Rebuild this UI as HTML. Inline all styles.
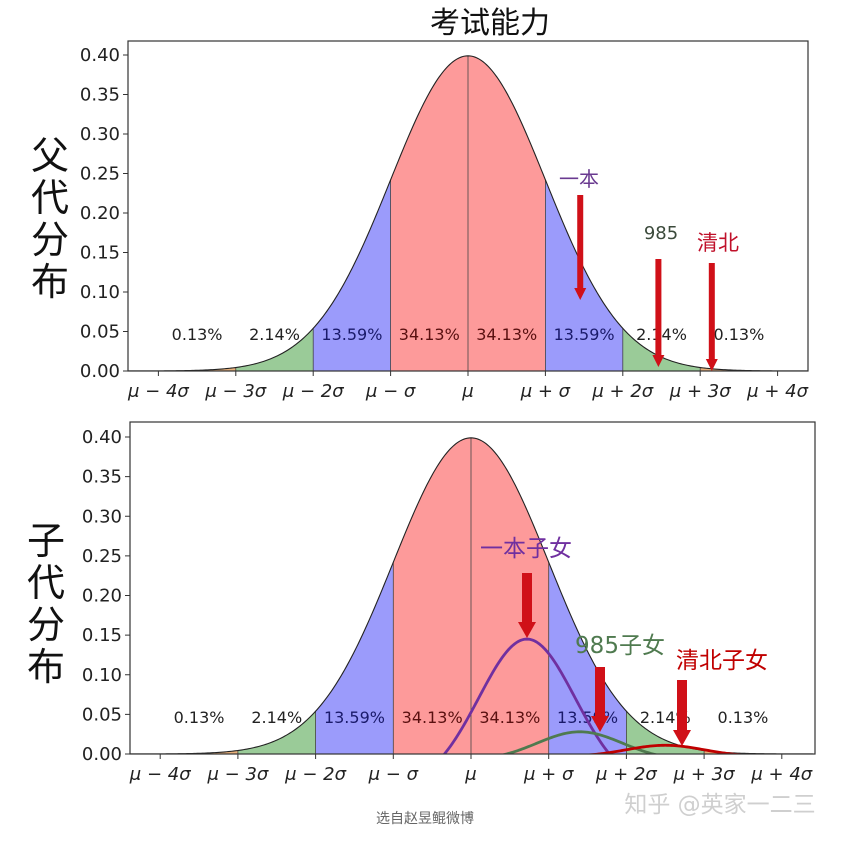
<!DOCTYPE html>
<html><head><meta charset="utf-8"><style>
body{margin:0;background:#fff;width:849px;height:841px;overflow:hidden}
svg text{font-family:"DejaVu Sans","Liberation Sans","Noto Sans CJK SC",sans-serif}
</style></head><body>
<svg id="chart" width="849" height="841" viewBox="0 0 849 841" xmlns="http://www.w3.org/2000/svg"></svg>
<script>
const regionEdges=[-4,-3,-2,-1,0,1,2,3,4];
const regionColors=["#e8b07a","#9acb98","#9b9bfb","#fd9a9a","#fd9a9a","#9b9bfb","#9acb98","#e8b07a"];
const percentLabels=["0.13%","2.14%","13.59%","34.13%","34.13%","13.59%","2.14%","0.13%"];
const labelColors=["#222","#222","#1a1a6a","#5a1010","#5a1010","#1a1a6a","#222","#222"];
const yTicks=[0,0.05,0.10,0.15,0.20,0.25,0.30,0.35,0.40];
const xTickLabels=["μ − 4σ","μ − 3σ","μ − 2σ","μ − σ","μ","μ + σ","μ + 2σ","μ + 3σ","μ + 4σ"];
const childNames=["一本子女","985子女","清北子女"];
const childMeans=[0.72,1.4,2.5];
const childPeaks=[0.145,0.028,0.011];
const childSpread=[0.62,0.55,0.5];
const childColors=["#7030a0","#4f7a4f","#c00000"];
const parentNames=["一本","985","清北"];
const parentArrowX=[1.45,2.46,3.15];
const parentColors=["#6a3a90","#3b4a3b","#c0102a"];

const svgRoot=document.getElementById('chart');
const NS="http://www.w3.org/2000/svg";
function el(t,a,p){const e=document.createElementNS(NS,t);for(const k in a)e.setAttribute(k,a[k]);(p||svgRoot).appendChild(e);return e;}
const pdf=x=>Math.exp(-x*x/2)/Math.sqrt(2*Math.PI);

function panel(cfg,name){
  const g=el('g',{});
  
  
  const X=v=>cfg.mu+v*cfg.sig, Y=v=>cfg.y0-v/0.4*(cfg.y0-cfg.y40);
  const clipId=name+'-clip';
  const cp=el('clipPath',{id:clipId},g);el('rect',{x:cfg.left,y:cfg.top,width:cfg.right-cfg.left,height:cfg.y0-cfg.top},cp);
  for(let i=0;i<regionEdges.length-1;i++){
    const a=regionEdges[i],b=regionEdges[i+1];let d=`M${X(a)},${Y(0)}`;
    for(let k=0;k<=40;k++){const x=a+(b-a)*k/40;d+=`L${X(x)},${Y(pdf(x))}`;}
    d+=`L${X(b)},${Y(0)}Z`;
    const r=el('path',{d,fill:regionColors[i],stroke:'none'},g);
    
    
    if(i>0) el('line',{x1:X(a),x2:X(a),y1:Y(0),y2:Y(pdf(a)),stroke:'#444','stroke-width':0.8},g);
  }
  let d='';for(let k=0;k<=400;k++){const x=-4.4+8.8*k/400;d+=(k?'L':'M')+X(x)+','+Y(pdf(x));}
  const c=el('path',{d,fill:'none',stroke:'#222','stroke-width':1.1,'clip-path':`url(#${clipId})`},g);
  
  
  for(let i=0;i<percentLabels.length;i++){
    const t=el('text',{x:X((regionEdges[i]+regionEdges[i+1])/2),y:cfg.pctY,'font-size':16,'text-anchor':'middle',fill:labelColors[i]},g);
    t.textContent=percentLabels[i];
    
    
  }
  if(cfg.child){
    for(let j=0;j<childMeans.length;j++){
      let dd='';for(let k=0;k<=200;k++){const x=childMeans[j]-2+4*k/200;const y=childPeaks[j]*(Math.exp(-Math.pow((x-childMeans[j])/childSpread[j],2)/2)*1.3-0.3);dd+=(k?'L':'M')+X(x)+','+Y(y);}
      const p=el('path',{d:dd,fill:'none',stroke:childColors[j],'stroke-width':2.8,'clip-path':`url(#${clipId})`},g);
      
      
    }
  }
  el('rect',{x:cfg.left,y:cfg.top,width:cfg.right-cfg.left,height:cfg.y0-cfg.top,fill:'none',stroke:'#333','stroke-width':1.2},g);
  yTicks.forEach(v=>{
    el('line',{x1:cfg.left-5,x2:cfg.left,y1:Y(v),y2:Y(v),stroke:'#333'},g);
    const t=el('text',{x:cfg.left-8,y:Y(v)+6,'font-size':18,'text-anchor':'end',fill:'#222'},g);t.textContent=v.toFixed(2);
    
    
  });
  regionEdges.forEach((v,i)=>{
    el('line',{x1:X(v),x2:X(v),y1:Y(0),y2:Y(0)+5,stroke:'#333'},g);
    const t=el('text',{x:X(v),y:Y(0)+26,'font-size':18,'font-style':'italic','text-anchor':'middle',fill:'#222'},g);t.textContent=xTickLabels[i];
    
    
  });
  return {X,Y};
}
function arrow(x,y1,y2,name,w,hw,hl){
  const a=el('path',{d:`M${x-w},${y1}L${x+w},${y1}L${x+w},${y2-hl}L${x+hw},${y2-hl}L${x},${y2}L${x-hw},${y2-hl}L${x-w},${y2-hl}Z`,fill:'#d01018'});
  
  
}
function txt(s,x,y,size,color,name,anchor){
  const t=el('text',{x,y,'font-size':size,fill:color,'text-anchor':anchor||'middle'});
  t.textContent=s;
  
  
  return t;
}
const topPanel=panel({left:128,right:808,top:41,y0:371,y40:55,mu:468,sig:77.4,pctY:340},'top-panel');
const botPanel=panel({left:130,right:815,top:422,y0:754,y40:437,mu:471,sig:77.7,pctY:723,child:true},'bottom-panel');

txt('考试能力',490,33,30,'#111','chart-title');
['父','代','分','布'].forEach((c,i)=>txt(c,50,169+i*42,38,'#111','parent-axis-label'));
['子','代','分','布'].forEach((c,i)=>txt(c,46,554+i*42,38,'#111','child-axis-label'));

const pLab=[[579,186],[661,239],[718,250]];
const pSize=[20,18,21];
parentNames.forEach((n,i)=>{
  const x=topPanel.X(parentArrowX[i]);
  txt(n,pLab[i][0],pLab[i][1],pSize[i],parentColors[i],'parent-label-'+i);
  arrow(x,[195,259,263][i],[300,367,371][i],'parent-arrow-'+i,3,6,12);
});
const cLab=[[526,556],[620,653],[722,668]];
const cArrowX=[527,600,682],cA1=[573,667,680],cA2=[638,732,746];
childNames.forEach((n,i)=>{
  txt(n,cLab[i][0],cLab[i][1],23,childColors[i],'child-label-'+i);
  arrow(cArrowX[i],cA1[i],cA2[i],'child-arrow-'+i,5,9,16);
});
txt('选自赵昱鲲微博',425,823,14,'#666','source-caption');
txt('知乎 @英家一二三',720,812,23,'#cfcfcf','watermark');
</script>
</body></html>
